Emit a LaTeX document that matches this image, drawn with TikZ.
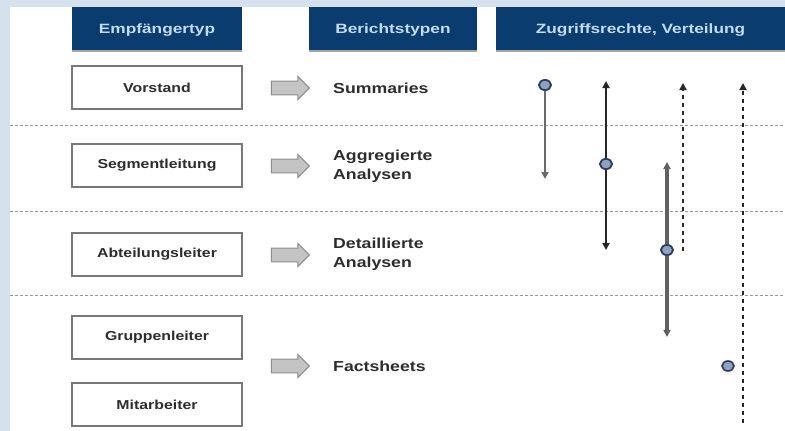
\documentclass[tikz,border=0pt]{standalone}
\usepackage{fontspec}
\setmainfont{Liberation Sans}
\newfontfamily\lblfont[FakeStretch=1.22]{Liberation Sans}
\newfontfamily\hdfont[FakeStretch=1.28]{Liberation Sans}
\usetikzlibrary{shapes.arrows,shapes.geometric,arrows.meta}

\definecolor{pagebg}{RGB}{213,225,236}
\definecolor{navy}{RGB}{10,60,112}
\definecolor{headtext}{RGB}{196,220,242}
\definecolor{boxline}{RGB}{120,120,120}
\definecolor{txt}{RGB}{45,45,45}
\definecolor{sepline}{RGB}{150,150,150}
\definecolor{arrowfill}{RGB}{196,196,196}
\definecolor{arrowline}{RGB}{140,140,140}
\definecolor{dotfill}{RGB}{140,162,196}
\definecolor{dotline}{RGB}{45,60,95}

\tikzset{
  header/.style={fill=navy, text=headtext, minimum height=43pt, inner sep=0pt,
    text height=9.5pt, text depth=0pt,
    font=\hdfont\bfseries\fontsize{13.5}{15}\selectfont},
  headshadow/.style={draw=black!35, line width=1.5pt},
  recvbox/.style={draw=boxline, line width=1.4pt, fill=white, minimum width=170pt,
    minimum height=43pt, inner sep=0pt, text=txt,
    font=\lblfont\bfseries\fontsize{13}{15}\selectfont},
  reportlabel/.style={anchor=west, align=left, text=txt, inner sep=0pt,
    font=\lblfont\bfseries\fontsize{14.5}{19.5}\selectfont},
  flowarrow/.style={single arrow, draw=arrowline, fill=arrowfill, line width=1pt,
    minimum height=38pt, minimum width=23pt, inner sep=6pt,
    single arrow head extend=4.5pt, single arrow head indent=0pt},
  separator/.style={draw=sepline, line width=1pt, dash pattern=on 3pt off 2pt},
  accessdot/.style={ellipse, draw=dotline, fill=dotfill, line width=1.6pt,
    minimum width=12pt, minimum height=10pt, inner sep=0pt},
  tip/.style={-{Triangle[length=7pt,width=7pt]}},
  lightrange/.style={tip, draw=black!58, line width=2.8pt},
  darkrange/.style={tip, draw=black!85, line width=2.2pt},
  thickrange/.style={tip, draw=black!62, line width=3.8pt},
  dashrange/.style={tip, draw=black!85, line width=2.4pt, dash pattern=on 4.5pt off 3.5pt},
}

\begin{document}
\begin{tikzpicture}[x=1pt,y=-1pt]
  % page and panel
  \fill[pagebg] (0,0) rectangle (785,431);
  \fill[white] (10,7) rectangle (785,431);
  \useasboundingbox (0,0) rectangle (785,431);

  % row separators
  \foreach \yy in {125,211,295}
    \draw[separator] (10,\yy) -- (785,\yy);

  % column headers
  \node[header, minimum width=170pt] (hRecv) at (157,28.5) {Empfängertyp};
  \node[header, minimum width=168pt] (hRep) at (393,28.5) {Berichtstypen};
  \node[header, minimum width=289pt] (hAcc) at (640.5,28.5) {Zugriffsrechte, Verteilung};
  \foreach \h in {hRecv,hRep,hAcc}
    \draw[headshadow] ([yshift=-0.75pt]\h.south west) -- ([yshift=-0.75pt]\h.south east);

  % recipient types
  \node[recvbox] (vorstand) at (157,87.5) {Vorstand};
  \node[recvbox] (segment) at (157,165.5) {Segmentleitung};
  \node[recvbox] (abteilung) at (157,254.5) {Abteilungsleiter};
  \node[recvbox] (gruppe) at (157,337.5) {Gruppenleiter};
  \node[recvbox] (mitarb) at (157,404.5) {Mitarbeiter};

  % flow arrows
  \node[flowarrow] (a1) at (287,88) {};
  \node[flowarrow] (a2) at (287,166) {};
  \node[flowarrow] (a3) at (287,255) {};
  \node[flowarrow] (a4) at (287,366) {};

  % report types
  \node[reportlabel] (rSum) at (333,88) {Summaries};
  \node[reportlabel] (rAgg) at (333,166) {Aggregierte\\Analysen};
  \node[reportlabel] (rDet) at (333,254) {Detaillierte\\Analysen};
  \node[reportlabel] (rFact) at (333,366) {Factsheets};

  % access ranges
  \coordinate (endA) at (545,179);
  \coordinate (topB) at (606,81);
  \coordinate (endB) at (606,250);
  \coordinate (topC) at (667,162);
  \coordinate (endC) at (667,337);
  \coordinate (topD) at (683,83);
  \coordinate (endD) at (683,251);
  \coordinate (topE) at (743,83);
  \coordinate (endE) at (743,423);

  \node[accessdot] (dA) at (545,85) {};
  \node[accessdot] (dB) at (606,164) {};
  \node[accessdot] (dC) at (667,250) {};
  \node[accessdot] (dF) at (728,366) {};

  \draw[lightrange] (dA) -- (endA);
  \draw[darkrange] (dB) -- (topB);
  \draw[darkrange] (dB) -- (endB);
  \draw[thickrange] (dC) -- (topC);
  \draw[thickrange] (dC) -- (endC);
  \draw[dashrange] (endD) -- (topD);
  \draw[dashrange] (endE) -- (topE);

  % dots over the lines
  \foreach \p in {{545,85},{606,164},{667,250}}
    \node[accessdot] at (\p) {};
\end{tikzpicture}
\end{document}
